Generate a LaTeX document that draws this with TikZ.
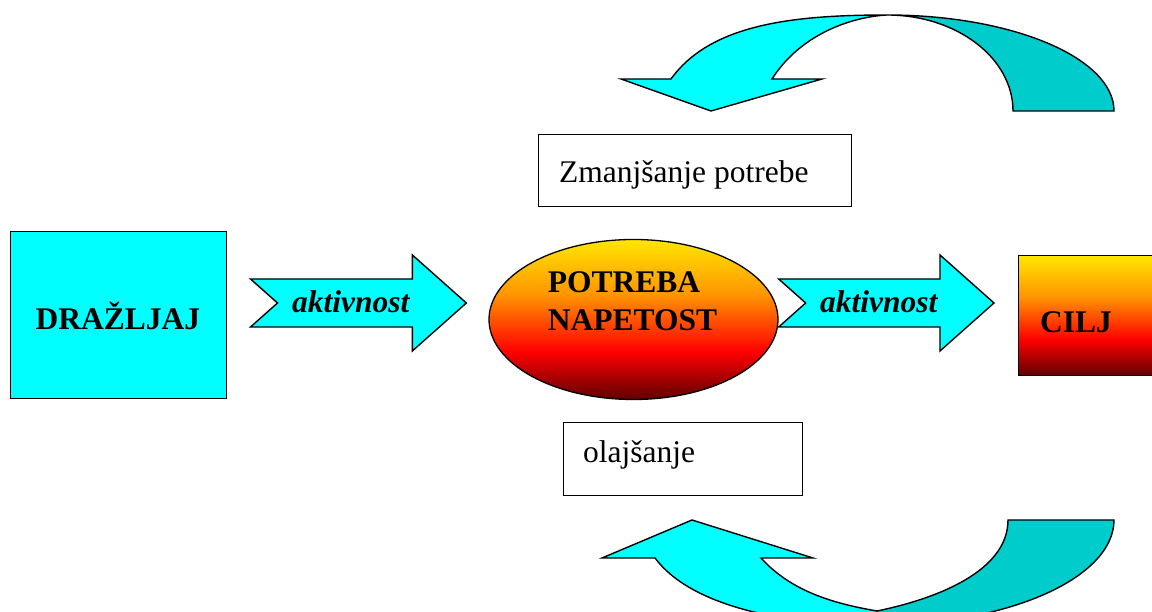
\documentclass[tikz,border=0pt]{standalone}
\usepackage{fontspec}
\setmainfont{Liberation Serif}
\usepackage{tikz}
\usetikzlibrary{shapes.geometric,calc}

\definecolor{aqua}{RGB}{0,255,255}
\definecolor{tealdark}{RGB}{0,204,204}
\definecolor{hotyellow}{RGB}{255,230,0}
\definecolor{hotorange}{RGB}{255,150,0}
\definecolor{hotred}{RGB}{255,0,0}
\definecolor{hotdark}{RGB}{96,0,0}
\pgfdeclareverticalshading{hot}{100bp}{color(0bp)=(hotdark); color(25bp)=(hotdark); color(40bp)=(hotred); color(58bp)=(hotorange); color(75bp)=(hotyellow); color(100bp)=(hotyellow)}

\begin{document}
\begin{tikzpicture}[x=1pt,y=1pt,
  frontfill/.style={draw=black,line width=1.4pt,fill=aqua,line join=miter},
  backfill/.style={draw=black,line width=1.4pt,fill=tealdark},
  txtbox/.style={draw=black,line width=1pt,fill=white,inner sep=0pt},
  boldtxt/.style={font=\fontsize{31.5}{38}\selectfont\bfseries,inner sep=0pt},
  akttxt/.style={font=\fontsize{31.5}{38}\selectfont\bfseries\itshape,inner sep=0pt},
  plaintxt/.style={font=\fontsize{31.5}{38}\selectfont,inner sep=0pt}]
\useasboundingbox (0,0) rectangle (1152,612);
\clip (0,0) rectangle (1152,612);

\node[draw,line width=1pt,fill=aqua,minimum width=216pt,minimum height=167pt,boldtxt] (drazljaj) at (118,296.5) {DRAŽLJAJ};
\node[ellipse,draw,line width=1.3pt,shading=hot,minimum width=289pt,minimum height=160pt] (potreba) at (633.5,292.5) {};
\node[boldtxt,align=left] (potrebatxt) at (632.5,311) {POTREBA\\NAPETOST};
\node[draw,line width=1pt,shading=hot,minimum width=147pt,minimum height=120pt,anchor=south west] (cilj) at (1018,236) {};
\node[boldtxt,anchor=base west] (ciljtxt) at (1040,279) {CILJ};

\node[txtbox,minimum width=313pt,minimum height=72pt] (zmanjsanje) at (694.5,441) {};
\node[plaintxt,anchor=base west] (zmanjsanjetxt) at (559,429) {Zmanjšanje potrebe};
\node[txtbox,minimum width=239pt,minimum height=73pt] (olajsanje) at (682.5,152.5) {};
\node[plaintxt,anchor=base west] (olajsanjetxt) at (583,149) {olajšanje};

\coordinate (a1s) at ($(drazljaj.east |- 0,309)+(24,0)$);
\coordinate (a1e) at ($(potreba.west |- 0,309)+(-22,0)$);
\coordinate (a2s) at ($(potreba.east |- 0,309)+(0,0)$);
\coordinate (a2e) at ($(cilj.west |- 0,309)+(-24,0)$);
\draw[frontfill] let \p1=(a1s), \p2=(a1e) in (\x1,\y1+24) -- (\x2-54,\y1+24) -- (\x2-54,\y1+48) -- (\x2,\y1) -- (\x2-54,\y1-48) -- (\x2-54,\y1-24) -- (\x1,\y1-24) -- (\x1+27,\y1) -- cycle;
\draw[frontfill] let \p1=(a2s), \p2=(a2e) in (\x1,\y1+24) -- (\x2-54,\y1+24) -- (\x2-54,\y1+48) -- (\x2,\y1) -- (\x2-54,\y1-48) -- (\x2-54,\y1-24) -- (\x1,\y1-24) -- (\x1+27,\y1) -- cycle;
\node[akttxt,anchor=base west] (aktivnost1) at (292,299) {aktivnost};
\node[akttxt,anchor=base west] (aktivnost2) at (820,299) {aktivnost};

\draw[backfill] (1114,501) arc[start angle=0,end angle=90,x radius=227,y radius=96]
  arc[start angle=90,end angle=0,x radius=126,y radius=96] -- cycle;
\draw[frontfill] (671,533) .. controls (710,587) and (790,597) .. (887,597)
  .. controls (850,595) and (800,577) .. (772,533) -- (822,533) -- (711,501) -- (621,533) -- cycle;

\draw[backfill] (1114,92) arc[start angle=0,end angle=-90,x radius=237,y radius=105]
  -- (877,1) .. controls (940,14) and (1008,42) .. (1008,92) -- cycle;
\draw[frontfill] (655,54) .. controls (690,7) and (780,-13) .. (877,-13) -- (877,1)
  .. controls (830,9) and (790,22) .. (761,54) -- (813,54) -- (692,92) -- (602,54) -- cycle;
\end{tikzpicture}
\end{document}
